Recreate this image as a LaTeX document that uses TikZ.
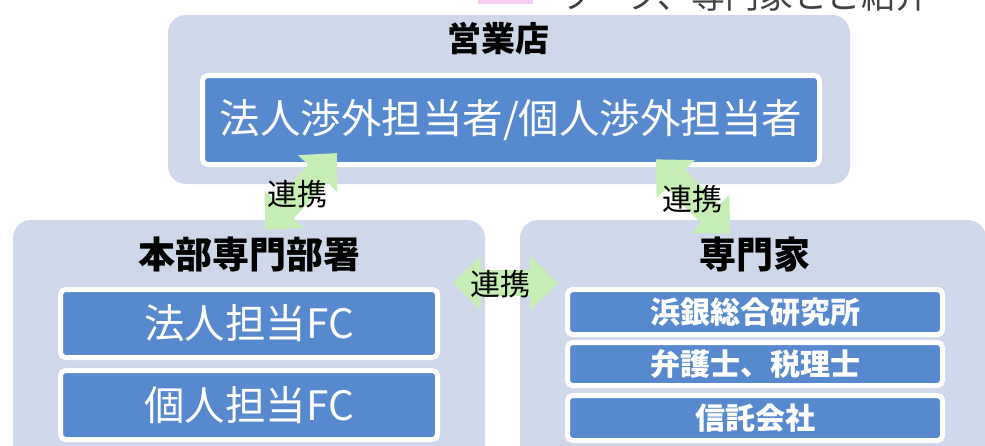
\documentclass[tikz,border=0pt]{standalone}
\usepackage{fontspec}
\setmainfont{Noto Sans CJK JP}
\definecolor{grpfill}{HTML}{CFD8EA}
\definecolor{inblue}{HTML}{5789CF}
\definecolor{arrgreen}{HTML}{C6EEB4}
\definecolor{pinkc}{HTML}{F9CCF3}
\definecolor{toptext}{HTML}{404040}
\tikzset{
  pics/dblarrow/.style={code={
    \fill[arrgreen] (-52.5,0) -- (-24.5,27) -- (-24.5,13) -- (24.5,13) -- (24.5,27)
      -- (52.5,0) -- (24.5,-27) -- (24.5,-13) -- (-24.5,-13) -- (-24.5,-27) -- cycle;
  }}
}
\begin{document}
\begin{tikzpicture}[x=1pt,y=-1pt,
  grp/.style={fill=grpfill, rounded corners=18pt, inner sep=0pt},
  inbox/.style={fill=inblue, draw=white, line width=5pt, rounded corners=5pt, inner sep=0pt, text=white},
  bigtxt/.style={font=\fontsize{40.5}{42}\selectfont},
  smalltxt/.style={font=\bfseries\fontsize{30}{32}\selectfont},
  grptitle/.style={font=\bfseries\fontsize{37}{40}\selectfont, inner sep=0pt},
  renkei/.style={font=\fontsize{30}{32}\selectfont, inner sep=0pt}]
\useasboundingbox (0,0) rectangle (985,445);
\clip (0,0) rectangle (985,445);
% cut-off text at top
\fill[pinkc] (478,0) rectangle (533,3.5);
\node[anchor=base west, inner sep=0pt, text=toptext, font=\fontsize{34}{36}\selectfont] (toptxt) at (558,8) {ワーク、専門家とご紹介};
% groups
\node[grp, minimum width=682pt, minimum height=169pt] (eigyo) at (509,99.5) {};
\node[grp, minimum width=472pt, minimum height=250pt] (honbu) at (249,345) {};
\node[grp, minimum width=466pt, minimum height=250pt] (senmon) at (753,345) {};
% titles
\node[grptitle, font=\bfseries\fontsize{34}{36}\selectfont] (t1) at (498,39) {営業店};
\node[grptitle] (t2) at (249,254) {本部専門部署};
\node[grptitle] (t3) at (755,254) {専門家};
% inner boxes
\node[inbox, bigtxt, minimum width=617pt, minimum height=89pt] (tanto) at (511,120) {法人渉外担当者/個人渉外担当者};
\node[inbox, bigtxt, minimum width=377pt, minimum height=68pt] (hfc) at (249,323.5) {法人担当FC};
\node[inbox, bigtxt, minimum width=377pt, minimum height=69pt] (kfc) at (249,405) {個人担当FC};
\node[inbox, smalltxt, minimum width=375pt, minimum height=45pt] (hama) at (755,312) {浜銀総合研究所};
\node[inbox, smalltxt, minimum width=375pt, minimum height=43pt] (bengo) at (755,364) {弁護士、税理士};
\node[inbox, smalltxt, minimum width=375pt, minimum height=45pt] (shin) at (755,418) {信託会社};
% arrows
\pic[rotate=47] (arrL) at (301,191.5) {dblarrow};
\pic[rotate=-45] (arrR) at (693,196.5) {dblarrow};
\pic (arrM) at (505.5,283) {dblarrow};
\node[renkei] (r1) at (297,194) {連携};
\node[renkei] (r2) at (692,199) {連携};
\node[renkei] (r3) at (500,284) {連携};
\end{tikzpicture}
\end{document}
